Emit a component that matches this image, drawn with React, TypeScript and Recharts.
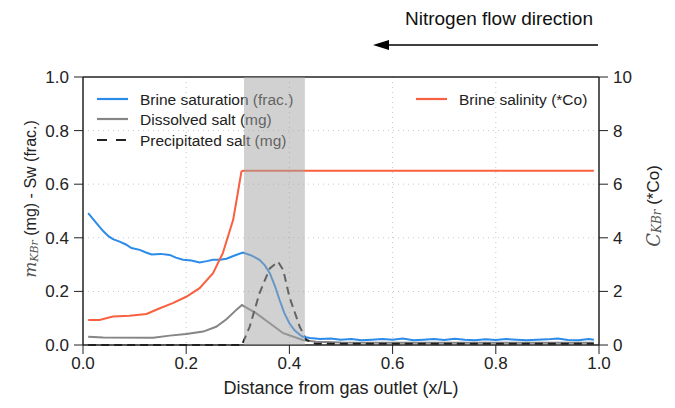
import React from 'react';
import {
  ComposedChart,
  Line,
  XAxis,
  YAxis,
  CartesianGrid,
  ReferenceArea,
  ReferenceLine,
} from 'recharts';

// values: [x/L, value]
const brineSaturation: [number, number][] = [
  [0.01, 0.492], [0.026, 0.455], [0.039, 0.425], [0.05, 0.405], [0.058, 0.395],
  [0.071, 0.386], [0.083, 0.375], [0.094, 0.362], [0.11, 0.355], [0.122, 0.345],
  [0.133, 0.338], [0.15, 0.34], [0.168, 0.336], [0.18, 0.326], [0.194, 0.318],
  [0.21, 0.315], [0.226, 0.308], [0.24, 0.313], [0.252, 0.318], [0.265, 0.318],
  [0.278, 0.322], [0.295, 0.335], [0.31, 0.345], [0.325, 0.335], [0.342, 0.318],
  [0.352, 0.298], [0.362, 0.268], [0.372, 0.22], [0.381, 0.168], [0.39, 0.12],
  [0.4, 0.081], [0.41, 0.055], [0.42, 0.038], [0.426, 0.031], [0.44, 0.026],
  [0.46, 0.022], [0.48, 0.024], [0.5, 0.02], [0.52, 0.022], [0.54, 0.018],
  [0.56, 0.02], [0.58, 0.022], [0.6, 0.02], [0.62, 0.024], [0.64, 0.018],
  [0.66, 0.02], [0.68, 0.022], [0.7, 0.019], [0.72, 0.023], [0.74, 0.02],
  [0.76, 0.018], [0.78, 0.021], [0.8, 0.019], [0.82, 0.022], [0.84, 0.02],
  [0.86, 0.018], [0.88, 0.02], [0.9, 0.021], [0.92, 0.024], [0.94, 0.019],
  [0.96, 0.018], [0.98, 0.022], [0.99, 0.02],
];

const dissolvedSalt: [number, number][] = [
  [0.01, 0.031], [0.039, 0.028], [0.136, 0.027], [0.168, 0.035], [0.2, 0.041],
  [0.233, 0.05], [0.258, 0.068], [0.278, 0.096], [0.297, 0.131], [0.308, 0.149],
  [0.336, 0.118], [0.362, 0.081], [0.388, 0.044], [0.426, 0.019], [0.452, 0.012],
  [0.5, 0.009], [0.6, 0.008], [0.8, 0.008], [0.99, 0.008],
];

const precipitatedSalt: [number, number][] = [
  [0.01, 0], [0.308, 0], [0.323, 0.068], [0.342, 0.193], [0.362, 0.286],
  [0.378, 0.311], [0.388, 0.28], [0.4, 0.18], [0.42, 0.068], [0.433, 0.019],
  [0.45, 0.005], [0.99, 0.005],
];

const brineSalinity: [number, number][] = [
  [0.01, 0.93], [0.032, 0.93], [0.058, 1.06], [0.09, 1.09], [0.123, 1.16],
  [0.149, 1.37], [0.174, 1.56], [0.2, 1.8], [0.226, 2.12], [0.252, 2.68],
  [0.271, 3.43], [0.291, 4.67], [0.3, 5.67], [0.307, 6.47], [0.31, 6.5],
  [0.99, 6.5],
];

const xTicks = [0, 0.2, 0.4, 0.6, 0.8, 1.0];
const leftTicks = [0, 0.2, 0.4, 0.6, 0.8, 1.0];
const rightTicks = [0, 2, 4, 6, 8, 10];
const shadedZone = [0.312, 0.43];

const toRows = (pts: [number, number][]) => pts.map(([x, y]) => ({ x, y }));

const FONT = '"Liberation Sans", Arial, sans-serif';
const SERIF = "'DejaVu Serif', serif";
const tickStyle = { fill: '#222', fontSize: 17, fontFamily: FONT };
const DASH = '8 5';

const LeftLabel = () => (
  <text
    x={30}
    y={199}
    transform="rotate(-90 30 199)"
    textAnchor="middle"
    dominantBaseline="central"
    fontFamily={FONT}
    fontSize={16}
    fill="#222"
  >
    <tspan fontFamily={SERIF} fontStyle="italic" fontSize={17} fill="#555">m</tspan>
    <tspan fontFamily={SERIF} fontStyle="italic" fontSize={11} dy={4} fill="#555">KBr</tspan>
    <tspan dy={-4}> (mg) - Sw (frac.)</tspan>
  </text>
);

const RightLabel = () => (
  <text
    x={653}
    y={206}
    transform="rotate(-90 653 206)"
    textAnchor="middle"
    dominantBaseline="central"
    fontFamily={FONT}
    fontSize={17}
    fill="#222"
  >
    <tspan fontFamily={SERIF} fontStyle="italic" fontSize={18} fill="#555">C</tspan>
    <tspan fontFamily={SERIF} fontStyle="italic" fontSize={12} dy={4} fill="#555">KBr</tspan>
    <tspan dy={-4}> (*Co)</tspan>
  </text>
);

// legend + title sit under the (transparent) chart so the shaded band covers them like in the figure
function Underlay() {
  const entries = [
    { name: 'Brine saturation (frac.)', color: '#2a8be8', dash: undefined, x: 97, y: 99 },
    { name: 'Dissolved salt (mg)', color: '#858585', dash: undefined, x: 97, y: 119 },
    { name: 'Precipitated salt (mg)', color: '#222', dash: '10 9', x: 97, y: 140 },
    { name: 'Brine salinity (*Co)', color: '#f8603f', dash: undefined, x: 416, y: 99 },
  ];
  return (
    <svg width={675} height={408} style={{ position: 'absolute', left: 0, top: 0 }}>
      {entries.map((e) => (
        <g key={e.name}>
          <line x1={e.x} x2={e.x + 31} y1={e.y} y2={e.y} stroke={e.color} strokeWidth={2.2} strokeDasharray={e.dash} />
          <text x={e.x + 43} y={e.y} dominantBaseline="central" fontFamily={FONT} fontSize={15.5} fill="#222">
            {e.name}
          </text>
        </g>
      ))}
      <text x={405} y={18} dominantBaseline="central" fontFamily={FONT} fontSize={19} fill="#111">
        Nitrogen flow direction
      </text>
      <line x1={598} x2={385} y1={45} y2={45} stroke="#000" strokeWidth={1.6} />
      <polygon points="373,45 389,40 389,50" fill="#000" />
    </svg>
  );
}

export default function App() {
  return (
    <div style={{ position: 'absolute', left: 0, top: 0, width: 675, height: 408, background: '#fff' }}>
      <Underlay />
      <div style={{ position: 'absolute', left: 0, top: 0 }}>
        <ComposedChart width={675} height={408} margin={{ top: 77, right: 0, bottom: 0, left: 0 }}>
          <CartesianGrid
            yAxisId="left"
            stroke="#c8c8c8"
            strokeDasharray="1 4"
            horizontalValues={[0.2, 0.4, 0.6, 0.8]}
            verticalValues={[0.2, 0.4, 0.6, 0.8]}
          />
          <XAxis
            dataKey="x"
            type="number"
            domain={[0, 1]}
            ticks={xTicks}
            tickFormatter={(v: number) => v.toFixed(1)}
            allowDuplicatedCategory={false}
            height={63}
            tick={tickStyle}
            tickSize={9}
            tickMargin={3}
            axisLine={{ stroke: '#222', strokeWidth: 1.5 }}
            tickLine={{ stroke: '#222' }}
            label={{
              value: 'Distance from gas outlet (x/L)',
              position: 'insideBottom',
              offset: 14,
              style: { fill: '#222', fontSize: 18, fontFamily: FONT },
            }}
          />
          <YAxis
            yAxisId="left"
            type="number"
            domain={[0, 1]}
            ticks={leftTicks}
            tickFormatter={(v: number) => v.toFixed(1)}
            width={83}
            tick={tickStyle}
            tickSize={9}
            tickMargin={5}
            axisLine={{ stroke: '#222', strokeWidth: 1.5 }}
            tickLine={{ stroke: '#222' }}
            label={<LeftLabel />}
          />
          <YAxis
            yAxisId="right"
            orientation="right"
            type="number"
            domain={[0, 10]}
            ticks={rightTicks}
            width={76}
            tick={tickStyle}
            tickSize={9}
            tickMargin={5}
            axisLine={{ stroke: '#222', strokeWidth: 1.5 }}
            tickLine={{ stroke: '#222' }}
            label={<RightLabel />}
          />
          <ReferenceLine yAxisId="left" y={1} stroke="#222" strokeWidth={1.5} />
          <Line
            yAxisId="left"
            data={toRows(dissolvedSalt)}
            dataKey="y"
            type="linear"
            stroke="#858585"
            strokeWidth={2}
            dot={false}
            isAnimationActive={false}
          />
          <Line
            yAxisId="left"
            data={toRows(precipitatedSalt)}
            dataKey="y"
            type="linear"
            stroke="#222"
            strokeWidth={2}
            strokeDasharray={DASH}
            dot={false}
            isAnimationActive={false}
          />
          <Line
            yAxisId="left"
            data={toRows(brineSaturation)}
            dataKey="y"
            type="linear"
            stroke="#2a8be8"
            strokeWidth={2}
            dot={false}
            isAnimationActive={false}
          />
          <Line
            yAxisId="right"
            data={toRows(brineSalinity)}
            dataKey="y"
            type="linear"
            stroke="#f8603f"
            strokeWidth={2}
            dot={false}
            isAnimationActive={false}
          />
          <ReferenceArea
            yAxisId="left"
            x1={shadedZone[0]}
            x2={shadedZone[1]}
            y1={0}
            y2={1}
            fill="#a3a3a3"
            fillOpacity={0.5}
            stroke="none"
            {...({ zIndex: 1500 } as any)}
          />
        </ComposedChart>
      </div>
    </div>
  );
}
